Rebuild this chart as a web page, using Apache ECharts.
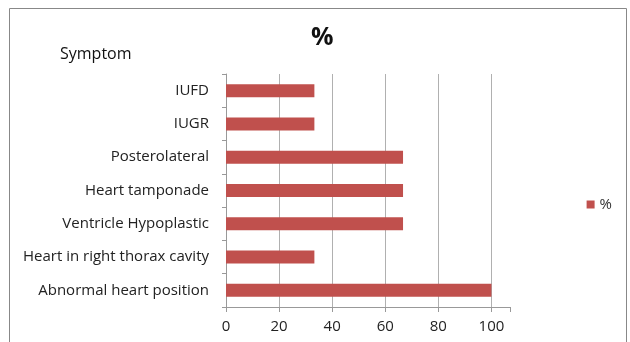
<!DOCTYPE html>
<html><head><meta charset="utf-8">
<script src="https://cdn.jsdelivr.net/npm/echarts@6/dist/echarts.min.js"></script>
<style>html,body{margin:0;padding:0;background:#fff}#c{width:630px;height:342px}</style>
</head><body><div id="c"></div>
<script>
const categories = ['Abnormal heart position','Heart in right thorax cavity','Ventricle Hypoplastic','Heart tamponade','Posterolateral','IUGR','IUFD'];
const values = [100, 33.3, 66.7, 66.7, 66.7, 33.3, 33.3];
const seriesName = '%';
const titleText = '%';
const axisName = 'Symptom';

const chart = echarts.init(document.getElementById('c'));
const font = '"Open Sans", sans-serif';
chart.setOption({
  animation: false,
  textStyle: {fontFamily: font},
  title: {text: titleText, left: 306, top: 20, textStyle: {fontSize: 25, fontWeight: 'bold', color: '#111', fontFamily: font}},
  graphic: [{type: 'rect', shape: {x: 9.5, y: 8.5, width: 617, height: 345}, style: {fill: 'none', stroke: '#888', lineWidth: 1}}],
  legend: {data: [seriesName], right: 13, top: 192, itemWidth: 8, itemHeight: 8, itemGap: 5, icon: 'rect',
    textStyle: {fontSize: 15, color: '#333', fontFamily: font}},
  grid: {left: 226, right: 120, top: 74, bottom: 35, containLabel: false},
  xAxis: {type: 'value', min: 0, max: 107, interval: 20,
    axisLine: {show: true, lineStyle: {color: '#999'}},
    axisTick: {show: true, length: 5, lineStyle: {color: '#999'}},
    axisLabel: {fontSize: 15, color: '#222', margin: 12, formatter: v => v > 100 ? '' : String(v)},
    splitLine: {show: true, lineStyle: {color: ['#b0b0b0','#b0b0b0','#b0b0b0','#b0b0b0','#b0b0b0','#b0b0b0','rgba(0,0,0,0)'], width: 1}}},
  yAxis: {type: 'category', data: categories,
    name: axisName, nameLocation: 'end', nameGap: 0,
    nameTextStyle: {fontSize: 16, color: '#111', align: 'left', padding: [0, 0, 12, -166]},
    axisLine: {show: true, lineStyle: {color: '#999'}},
    axisTick: {show: true, length: 4, lineStyle: {color: '#999'}},
    axisLabel: {fontSize: 15, color: '#222', margin: 17}},
  series: [{name: seriesName, type: 'bar', data: values, barCategoryGap: '61%',
    itemStyle: {color: '#C0504D'}}]
});
</script></body></html>
